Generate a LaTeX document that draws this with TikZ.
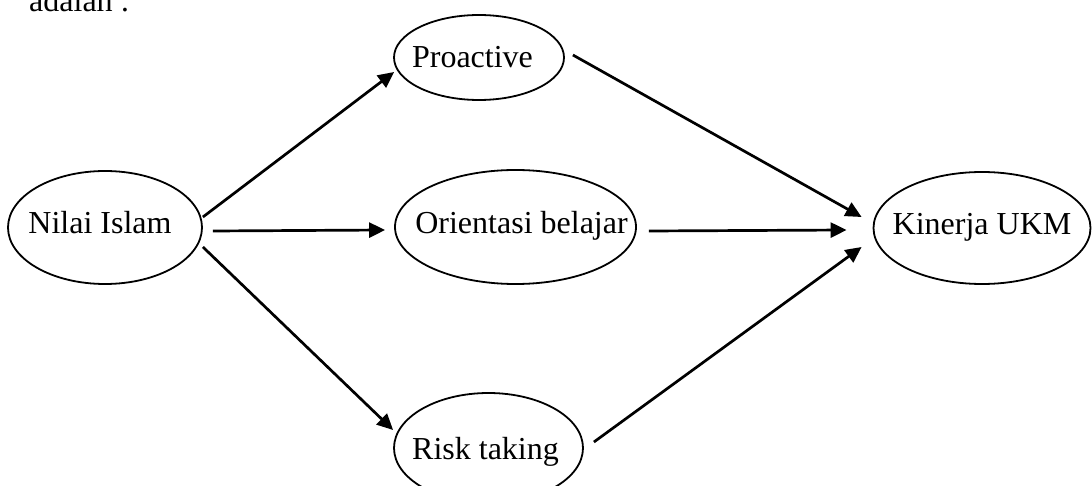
\documentclass[tikz,border=0pt]{standalone}
\usepackage{fontspec}
\setmainfont{Liberation Serif}
\usetikzlibrary{shapes.geometric,arrows.meta}
\tikzset{
  var/.style={ellipse,draw,line width=1.8pt,inner sep=0pt,
    text height=21pt,text depth=8pt,
    font=\fontsize{32}{38}\selectfont},
  arr/.style={line width=2.7pt,-{Triangle[length=16pt,width=15pt]}},
}
\begin{document}
\begin{tikzpicture}[x=1pt,y=1pt]
\useasboundingbox (0,0) rectangle (1092,-486);
\clip (0,0) rectangle (1092,-486);
\node[anchor=base west,inner sep=0pt,font=\fontsize{32}{38}\selectfont] (intro) at (29,-12) {adalah :};
\node[var,minimum width=194pt,minimum height=113pt] (nilai) at (105,-227.5) {\makebox[0pt]{\kern-10pt Nilai Islam}};
\node[var,minimum width=170pt,minimum height=85pt] (proactive) at (479,-57.5) {\makebox[0pt]{\kern-13pt\raisebox{-4pt}{Proactive}}};
\node[var,minimum width=241pt,minimum height=114pt] (orient) at (515.5,-227) {\makebox[0pt]{\kern12pt Orientasi belajar}};
\node[var,minimum width=189pt,minimum height=110pt] (risk) at (488.5,-448) {\makebox[0pt]{\kern-6pt\raisebox{-5pt}{Risk taking}}};
\node[var,minimum width=217pt,minimum height=112pt] (kinerja) at (982,-228) {\makebox[0pt]{Kinerja UKM}};
\draw[arr] ([yshift=10.5pt]nilai.east) -- ([xshift=1pt,yshift=-14.5pt]proactive.west);
\draw[arr] ([xshift=10pt,yshift=-3.5pt]nilai.east) -- ([xshift=-9pt,yshift=-3pt]orient.west);
\draw[arr] ([yshift=-19.5pt]nilai.east) -- ([yshift=18pt]risk.west);
\draw[arr] ([xshift=8pt,yshift=2.5pt]proactive.east) -- ([xshift=-11pt,yshift=11pt]kinerja.west);
\draw[arr] ([xshift=12pt,yshift=-4pt]orient.east) -- ([xshift=-26pt,yshift=-2pt]kinerja.west);
\draw[arr] ([xshift=10pt,yshift=6pt]risk.east) -- ([xshift=-11pt,yshift=-19pt]kinerja.west);
\end{tikzpicture}
\end{document}
